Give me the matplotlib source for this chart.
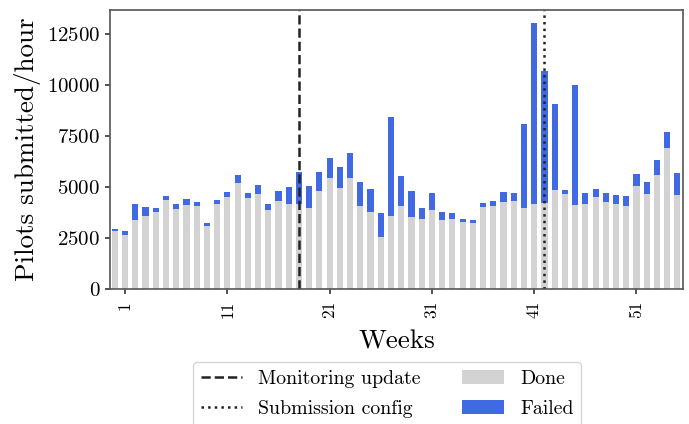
import matplotlib
matplotlib.use("Agg")
import matplotlib.pyplot as plt
import numpy as np

# weekly pilots submitted per hour
done = [2843, 2647, 3382, 3578, 3775, 4363, 3922, 4118, 4069, 3088,
        4167, 4510, 5196, 4461, 4657, 3873, 4314, 4167, 4167, 3971,
        4804, 5441, 4951, 5441, 4069, 3775, 2549, 3578, 4069, 3529,
        3431, 3873, 3382, 3431, 3284, 3235, 4020, 4069, 4265, 4314,
        3971, 4167, 4216, 4853, 4657, 4118, 4167, 4510, 4265, 4167,
        4069, 5049, 4657, 5588, 6912, 4608]
total = [2941, 2843, 4167, 4020, 3971, 4559, 4167, 4412, 4265, 3235,
         4363, 4755, 5588, 4706, 5098, 4167, 4804, 5000, 5735, 5049,
         5735, 6422, 5980, 6667, 5245, 4902, 3726, 8431, 5539, 4804,
         3971, 4706, 3775, 3726, 3431, 3382, 4216, 4314, 4755, 4706,
         8088, 13039, 10686, 9069, 4853, 10000, 4706, 4902, 4706, 4608,
         4559, 5637, 5245, 6324, 7696, 5686]
failed = [t - d for t, d in zip(total, done)]
tick_weeks = [1, 11, 21, 31, 41, 51]
monitoring_update = 18
submission_config = 42

plt.rcParams['font.family'] = 'cmr10'
plt.rcParams['mathtext.fontset'] = 'cm'
plt.rcParams['axes.formatter.use_mathtext'] = True

fig = plt.figure(figsize=(6.89, 4.24), dpi=100)
ax = fig.add_axes([0.1597, 0.3184, 0.8312, 0.658])

x = np.arange(len(done))
bd = ax.bar(x, done, width=0.6, color='lightgray', label='Done')
bf = ax.bar(x, failed, width=0.6, bottom=done, color='royalblue', label='Failed')
l1 = ax.axvline(monitoring_update, color='#222222', ls='--', lw=1.8, label='Monitoring update')
l2 = ax.axvline(submission_config, color='#222222', ls=':', lw=1.8, label='Submission config')

ax.set_xlim(-0.47, 55.52)
ax.set_ylim(0, max(total) * 1.05)
ax.set_xticks(tick_weeks)
ax.set_xticklabels([str(w) for w in tick_weeks], rotation=90)
ax.set_yticks([0, 2500, 5000, 7500, 10000, 12500])
ax.tick_params(color='#333333', length=3.6, width=1.2)
ax.tick_params(axis='x', labelsize=12.5, pad=5)
ax.tick_params(axis='y', labelsize=15)
for s in ax.spines.values():
    s.set_color('#555555')
    s.set_linewidth(1.2)
ax.set_xlabel('Weeks', fontsize=19.5, labelpad=8)
ax.set_ylabel('Pilots submitted/hour', fontsize=19.5)

ax.legend(handles=[l1, l2, bd, bf], ncol=2, loc='upper center',
          bbox_to_anchor=(0.4837, -0.2616), borderaxespad=0, fontsize=14.3,
          columnspacing=2.1, handlelength=2.1, handletextpad=0.8,
          labelspacing=0.6)

fig.savefig('out.png', dpi=100)
